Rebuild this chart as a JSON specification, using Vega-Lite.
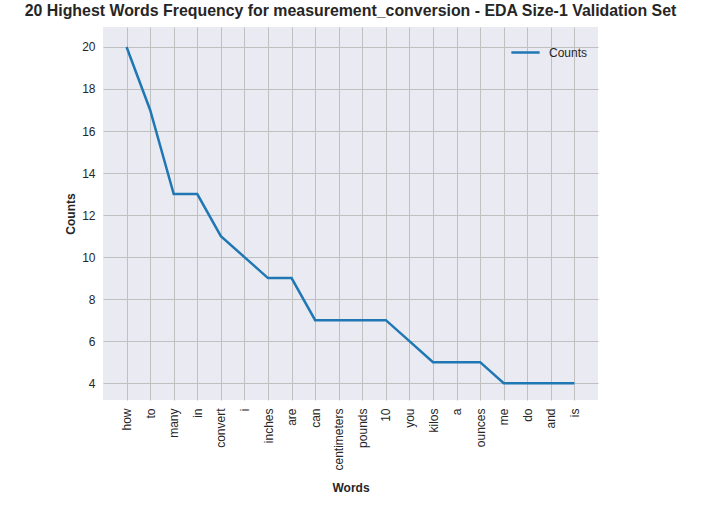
{
  "$schema": "https://vega.github.io/schema/vega-lite/v6.json",
  "width": 495,
  "height": 373,
  "autosize": {"type": "none"},
  "padding": {"left": 103, "top": 27, "right": 104, "bottom": 106},
  "background": "white",
  "title": {
    "text": "20 Highest Words Frequency for measurement_conversion - EDA Size-1 Validation Set",
    "font": "Liberation Sans",
    "fontSize": 15.9,
    "fontWeight": "bold",
    "color": "#262626",
    "anchor": "middle",
    "offset": 8
  },
  "data": {
    "values": [
      {"word": "how", "count": 20, "series": "Counts"},
      {"word": "to", "count": 17, "series": "Counts"},
      {"word": "many", "count": 13, "series": "Counts"},
      {"word": "in", "count": 13, "series": "Counts"},
      {"word": "convert", "count": 11, "series": "Counts"},
      {"word": "i", "count": 10, "series": "Counts"},
      {"word": "inches", "count": 9, "series": "Counts"},
      {"word": "are", "count": 9, "series": "Counts"},
      {"word": "can", "count": 7, "series": "Counts"},
      {"word": "centimeters", "count": 7, "series": "Counts"},
      {"word": "pounds", "count": 7, "series": "Counts"},
      {"word": "10", "count": 7, "series": "Counts"},
      {"word": "you", "count": 6, "series": "Counts"},
      {"word": "kilos", "count": 5, "series": "Counts"},
      {"word": "a", "count": 5, "series": "Counts"},
      {"word": "ounces", "count": 5, "series": "Counts"},
      {"word": "me", "count": 4, "series": "Counts"},
      {"word": "do", "count": 4, "series": "Counts"},
      {"word": "and", "count": 4, "series": "Counts"},
      {"word": "is", "count": 4, "series": "Counts"}
    ]
  },
  "mark": {"type": "line", "strokeWidth": 2.5},
  "encoding": {
    "x": {
      "field": "word",
      "type": "ordinal",
      "sort": null,
      "scale": {"type": "point", "padding": 1},
      "title": "Words",
      "axis": {"labelAngle": -90, "grid": true, "titlePadding": 12}
    },
    "y": {
      "field": "count",
      "type": "quantitative",
      "scale": {"domain": [3.2, 20.95], "nice": false, "zero": false},
      "title": "Counts",
      "axis": {"values": [4, 6, 8, 10, 12, 14, 16, 18, 20]}
    },
    "color": {
      "field": "series",
      "type": "nominal",
      "scale": {"range": ["#1f77b4"]},
      "legend": {
        "title": null,
        "orient": "top-right",
        "symbolType": "stroke",
        "symbolStrokeWidth": 2.5,
        "symbolSize": 800,
        "labelFont": "Liberation Sans",
        "labelFontSize": 12,
        "labelColor": "#262626",
        "labelOffset": 8,
        "offset": 10
      }
    }
  },
  "config": {
    "view": {"fill": "#eaeaf2", "stroke": null},
    "axis": {
      "labelFont": "Liberation Sans",
      "labelFontSize": 12,
      "labelColor": "#262626",
      "titleFont": "Liberation Sans",
      "titleFontSize": 12,
      "titleFontWeight": "bold",
      "titleColor": "#262626",
      "domain": false,
      "ticks": false,
      "labelPadding": 8,
      "gridColor": "#c0c0c0",
      "gridWidth": 1
    }
  }
}
